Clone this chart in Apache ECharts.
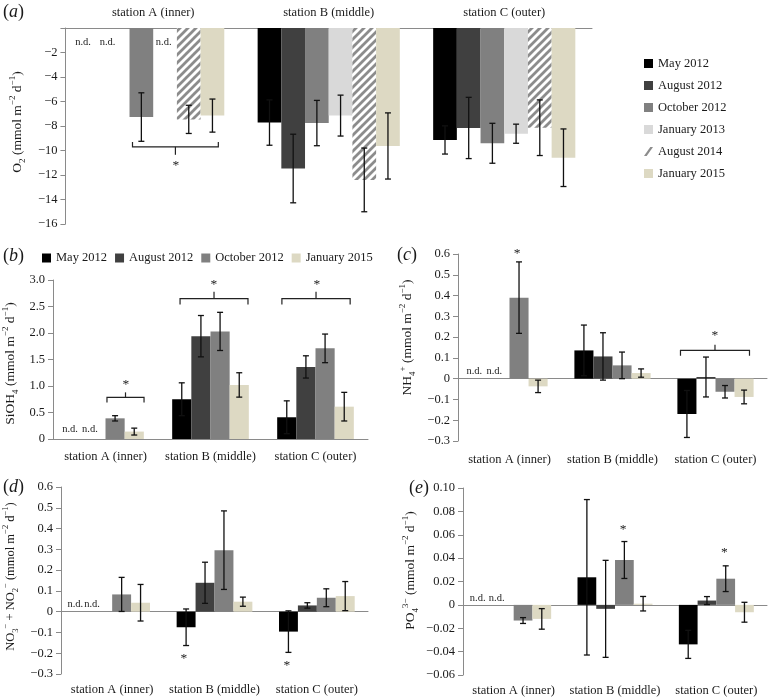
<!DOCTYPE html>
<html>
<head>
<meta charset="utf-8">
<script src="https://cdn.jsdelivr.net/npm/echarts@6/dist/echarts.min.js"></script>
<style>html,body{margin:0;padding:0;background:#fff}#c{width:768px;height:698px}</style>
</head>
<body>
<div id="c"></div>
<script>
// ---------- DATA ----------
const stations = ['station A (inner)', 'station B (middle)', 'station C (outer)'];
const seasonsO2 = ['May 2012', 'August 2012', 'October 2012', 'January 2013', 'August 2014', 'January 2015'];
const seasonsNut = ['May 2012', 'August 2012', 'October 2012', 'January 2015'];

// (a) O2 flux (mmol m-2 d-1), null = n.d.
const o2May = [null, -7.72, -9.14];
const o2MayErr = [null, 1.85, 1.15];
const o2Aug12 = [null, -11.47, -8.16];
const o2Aug12Err = [null, 2.8, 2.5];
const o2Oct12 = [-7.27, -7.76, -9.41];
const o2Oct12Err = [1.98, 1.85, 1.63];
const o2Jan13 = [null, -7.15, -8.63];
const o2Jan13Err = [null, 1.67, 0.78];
const o2Aug14 = [-7.46, -12.4, -8.14];
const o2Aug14Err = [1.15, 2.6, 2.27];
const o2Jan15 = [-7.15, -9.63, -10.59];
const o2Jan15Err = [1.35, 2.7, 2.35];

// (b) SiOH4
const siMay = [null, 0.75, 0.41];
const siMayErr = [null, 0.31, 0.31];
const siAug12 = [null, 1.94, 1.36];
const siAug12Err = [null, 0.39, 0.21];
const siOct12 = [0.39, 2.03, 1.71];
const siOct12Err = [0.05, 0.36, 0.27];
const siJan15 = [0.14, 1.02, 0.61];
const siJan15Err = [0.065, 0.23, 0.27];

// (c) NH4+
const nhMay = [null, 0.136, -0.17];
const nhMayErr = [null, 0.122, 0.113];
const nhAug12 = [null, 0.107, 0.008];
const nhAug12Err = [null, 0.114, 0.096];
const nhOct12 = [0.39, 0.064, -0.063];
const nhOct12Err = [0.172, 0.064, 0.03];
const nhJan15 = [-0.037, 0.027, -0.088];
const nhJan15Err = [0.03, 0.02, 0.033];

// (d) NO3- + NO2-
const noMay = [null, -0.075, -0.096];
const noMayErr = [null, 0.088, 0.1];
const noAug12 = [null, 0.139, 0.030];
const noAug12Err = [null, 0.099, 0.013];
const noOct12 = [0.083, 0.296, 0.067];
const noOct12Err = [0.082, 0.189, 0.043];
const noJan15 = [0.043, 0.048, 0.075];
const noJan15Err = [0.088, 0.022, 0.07];

// (e) PO4 3-
const poMay = [null, 0.0236, -0.0338];
const poMayErr = [null, 0.0665, 0.012];
const poAug12 = [null, -0.0034, 0.0037];
const poAug12Err = [null, 0.0415, 0.0034];
const poOct12 = [-0.0134, 0.0384, 0.0224];
const poOct12Err = [0.0025, 0.0158, 0.011];
const poJan15 = [-0.012, 0.001, -0.0063];
const poJan15Err = [0.0088, 0.0062, 0.0085];

// axis ranges [min, max, interval]
const o2Range = [-16, 0, 2];
const siRange = [0, 3, 0.5];
const nhRange = [-0.3, 0.6, 0.1];
const noRange = [-0.3, 0.6, 0.1];
const poRange = [-0.06, 0.10, 0.02];

// annotations (category units from category centre, value units)
const annA = {nd: [[-0.40, -1.14], [-0.26, -1.14], [0.06, -1.14]],
  brackets: [{x0: -0.118, x1: 0.371, y: -9.7, yEnd: -9.3, yMid: -10.35}],
  stars: [[0.129, -11.0]]};
const annB = {nd: [[-0.338, 0.19], [-0.148, 0.19]],
  brackets: [{x0: 0.014, x1: 0.367, y: 0.785, yEnd: 0.69, yMid: 0.88},
             {x0: 0.71, x1: 1.357, y: 2.65, yEnd: 2.54, yMid: 2.78},
             {x0: 1.68, x1: 2.33, y: 2.65, yEnd: 2.54, yMid: 2.78}],
  stars: [[0.195, 1.09], [1.033, 2.97], [2.014, 2.97]]};
const annC = {nd: [[-0.342, 0.035], [-0.148, 0.035]],
  brackets: [{x0: 1.66, x1: 2.33, y: 0.136, yEnd: 0.11, yMid: 0.163}],
  stars: [[0.074, 0.617], [1.995, 0.223]]};
const annD = {nd: [[-0.36, 0.037], [-0.197, 0.037]], brackets: [],
  stars: [[0.70, -0.213], [1.707, -0.245]]};
const annE = {nd: [[-0.355, 0.0054], [-0.167, 0.0054]], brackets: [],
  stars: [[1.08, 0.0672], [2.08, 0.0472]]};

// ---------- STYLE ----------
const FONT = 'Liberation Serif';
const TXT = '#1a1a1a';
const AX = '#8a8a8a';
const colMay = '#000000', colAug12 = '#404040', colOct12 = '#808080', colJan13 = '#d9d9d9', colJan15 = '#ddd9c3';

const hatch = document.createElement('canvas');
hatch.width = 8; hatch.height = 8;
(function () {
  const g = hatch.getContext('2d');
  g.fillStyle = '#ffffff'; g.fillRect(0, 0, 8, 8);
  g.strokeStyle = '#8c8c8c'; g.lineWidth = 2.8;
  g.beginPath();
  g.moveTo(-2, 10); g.lineTo(10, -2);
  g.moveTo(-6, 6); g.lineTo(6, -6);
  g.moveTo(2, 14); g.lineTo(14, 2);
  g.stroke();
})();
const colAug14 = {image: hatch, repeat: 'repeat'};

const grids = [
  {left: 57, top: 28, width: 535, height: 196},
  {left: 53, top: 280, width: 315, height: 159},
  {left: 458, top: 254, width: 309, height: 187},
  {left: 59, top: 487, width: 309, height: 187},
  {left: 463, top: 488, width: 304, height: 187}
];

function richName(fs) {
  const s = Math.round(fs * 0.67 * 2) / 2;
  return {
    sub: {fontFamily: FONT, fontSize: s, lineHeight: 10, verticalAlign: 'bottom', color: TXT},
    sup: {fontFamily: FONT, fontSize: s, lineHeight: 10, verticalAlign: 'top', color: TXT}
  };
}

function fmtDec(d) {
  return function (v) {
    if (Math.abs(v) < 1e-9) return '0';
    return (v < 0 ? '\u2212' : '') + Math.abs(v).toFixed(d);
  };
}

function yAxisCfg(gi, range, fmt, name, nameGap, pad, fs) {
  return {
    type: 'value', gridIndex: gi, min: range[0], max: range[1], interval: range[2],
    splitLine: {show: false},
    axisLine: {show: true, onZero: false, lineStyle: {color: AX, width: 1}},
    axisTick: {show: true, length: 5, lineStyle: {color: AX}},
    axisLabel: {formatter: fmt, color: TXT, fontFamily: FONT, fontSize: 12.5, margin: 8},
    name: name, nameLocation: 'middle', nameGap: nameGap, nameRotate: 90,
    nameTextStyle: {fontFamily: FONT, fontSize: fs, color: TXT, lineHeight: 19, padding: pad, rich: richName(fs)}
  };
}

const catLabel = {color: TXT, fontFamily: FONT, fontSize: 12.5, interval: 0};
const xAxes = [
  // a
  {type: 'category', gridIndex: 0, data: stations, position: 'top',
   axisLine: {onZero: false, lineStyle: {color: AX}}, axisTick: {inside: true, length: 5, lineStyle: {color: AX}},
   axisLabel: Object.assign({margin: 9}, catLabel)},
  // b
  {type: 'category', gridIndex: 1, data: stations, position: 'bottom',
   axisLine: {onZero: false, lineStyle: {color: AX}}, axisTick: {length: 5, lineStyle: {color: AX}},
   axisLabel: Object.assign({margin: 11}, catLabel)}
];
[2, 3, 4].forEach(function (gi, k) {
  xAxes.push({type: 'category', gridIndex: gi, data: stations,
    axisLine: {onZero: true, lineStyle: {color: AX}}, axisTick: {length: 5, lineStyle: {color: AX}},
    axisLabel: {show: false}});
  xAxes.push({type: 'category', gridIndex: gi, data: stations, position: 'bottom',
    axisLine: {show: false, onZero: false}, axisTick: {show: false},
    axisLabel: Object.assign({margin: k === 0 ? 12 : 9}, catLabel)});
});

const yAxes = [
  yAxisCfg(0, o2Range, function (v) { return v === 0 ? '' : (v < 0 ? '\u2212' : '') + Math.abs(v); },
    'O{sub|2} (mmol m{sup|\u22122} d{sup|\u22121})', 36, [0, 0, 0, 8], 13.5),
  yAxisCfg(1, siRange, function (v) { return v === 0 ? '0' : v.toFixed(1); },
    'SiOH{sub|4} (mmol m{sup|\u22122} d{sup|\u22121})', 33, [0, 8, 0, 0], 13.5),
  yAxisCfg(2, nhRange, fmtDec(1),
    'NH{sub|4}{sup|+} (mmol m{sup|\u22122} d{sup|\u22121})', 41, [0, 0, 0, 20], 13.5),
  yAxisCfg(3, noRange, fmtDec(1),
    'NO{sub|3}{sup|\u2212} + NO{sub|2}{sup|\u2212} (mmol m{sup|\u22122} d{sup|\u22121})', 41, [0, 0, 0, 8], 12.5),
  yAxisCfg(4, poRange, fmtDec(2),
    'PO{sub|4}{sup|3\u2212} (mmol m{sup|\u22122} d{sup|\u22121})', 43, [0, 0, 0, 22], 13.5)
];

const series = [];

function errRender(idx, n, gap) {
  return function (params, api) {
    const cat = api.value(0), lo = api.value(1), hi = api.value(2);
    const p1 = api.coord([cat, lo]), p2 = api.coord([cat, hi]);
    const cw = api.size([1, 0])[0];
    const gw = cw * (1 - gap), bw = gw / n;
    const x = p1[0] - gw / 2 + bw * (idx + 0.5);
    const cap = 3;
    const st = {stroke: '#111', lineWidth: 1.3};
    return {type: 'group', children: [
      {type: 'line', shape: {x1: x, y1: p1[1], x2: x, y2: p2[1]}, style: st},
      {type: 'line', shape: {x1: x - cap, y1: p1[1], x2: x + cap, y2: p1[1]}, style: st},
      {type: 'line', shape: {x1: x - cap, y1: p2[1], x2: x + cap, y2: p2[1]}, style: st}
    ]};
  };
}

function addPanel(xi, yi, names, colors, vals, errs, gap) {
  const n = names.length;
  names.forEach(function (nm, i) {
    series.push({type: 'bar', name: nm, xAxisIndex: xi, yAxisIndex: yi,
      data: vals[i].map(function (v) { return v === null ? '-' : v; }),
      itemStyle: {color: colors[i]}, barGap: 0, barCategoryGap: (gap * 100) + '%',
      emphasis: {disabled: true}, silent: true, animation: false});
  });
  names.forEach(function (nm, i) {
    const d = [];
    vals[i].forEach(function (v, c) {
      if (v !== null) d.push([c, v - errs[i][c], v + errs[i][c]]);
    });
    series.push({type: 'custom', xAxisIndex: xi, yAxisIndex: yi, data: d,
      encode: {x: 0, y: [1, 2]}, renderItem: errRender(i, n, gap), z: 5, silent: true, animation: false});
  });
}

function addAnno(xi, yi, ann) {
  const items = [];
  ann.nd.forEach(function (p) { items.push({k: 'nd', x: p[0], y: p[1]}); });
  ann.stars.forEach(function (p) { items.push({k: 'star', x: p[0], y: p[1]}); });
  ann.brackets.forEach(function (b) { items.push({k: 'br', b: b}); });
  series.push({type: 'custom', xAxisIndex: xi, yAxisIndex: yi, z: 6, silent: true, animation: false,
    data: items.map(function () { return [0, 0]; }), encode: {x: 0, y: 1},
    renderItem: function (params, api) {
      const it = items[params.dataIndex];
      const cw = api.size([1, 0])[0];
      const x0 = api.coord([0, 0])[0];
      if (it.k === 'nd' || it.k === 'star') {
        const y = api.coord([0, it.y])[1];
        return {type: 'text', x: x0 + it.x * cw, y: it.k === 'star' ? y + 3 : y,
          style: {text: it.k === 'nd' ? 'n.d.' : '*', fontFamily: FONT, fontSize: it.k === 'nd' ? 10.5 : 13.5,
            fill: TXT, align: 'center', verticalAlign: 'middle'}};
      }
      const b = it.b;
      const xa = x0 + b.x0 * cw, xb = x0 + b.x1 * cw, xm = (xa + xb) / 2;
      const yh = api.coord([0, b.y])[1], ye = api.coord([0, b.yEnd])[1], ym = api.coord([0, b.yMid])[1];
      const st = {stroke: '#222', lineWidth: 1.2, fill: null};
      return {type: 'group', children: [
        {type: 'polyline', shape: {points: [[xa, ye], [xa, yh], [xb, yh], [xb, ye]]}, style: st},
        {type: 'line', shape: {x1: xm, y1: yh, x2: xm, y2: ym}, style: st}
      ]};
    }});
}

addPanel(0, 0, seasonsO2, [colMay, colAug12, colOct12, colJan13, colAug14, colJan15],
  [o2May, o2Aug12, o2Oct12, o2Jan13, o2Aug14, o2Jan15],
  [o2MayErr, o2Aug12Err, o2Oct12Err, o2Jan13Err, o2Aug14Err, o2Jan15Err], 0.19);
const nutCols = [colMay, colAug12, colOct12, colJan15];
addPanel(1, 1, seasonsNut, nutCols, [siMay, siAug12, siOct12, siJan15],
  [siMayErr, siAug12Err, siOct12Err, siJan15Err], 0.27);
addPanel(2, 2, seasonsNut, nutCols, [nhMay, nhAug12, nhOct12, nhJan15],
  [nhMayErr, nhAug12Err, nhOct12Err, nhJan15Err], 0.26);
addPanel(4, 3, seasonsNut, nutCols, [noMay, noAug12, noOct12, noJan15],
  [noMayErr, noAug12Err, noOct12Err, noJan15Err], 0.26);
addPanel(6, 4, seasonsNut, nutCols, [poMay, poAug12, poOct12, poJan15],
  [poMayErr, poAug12Err, poOct12Err, poJan15Err], 0.26);
addAnno(0, 0, annA);
addAnno(1, 1, annB);
addAnno(2, 2, annC);
addAnno(4, 3, annD);
addAnno(6, 4, annE);

function panelLetter(letter, left, top) {
  return {type: 'text', left: left, top: top, silent: true,
    style: {text: '({i|' + letter + '})', fontFamily: FONT, fontSize: 18, fill: TXT,
      rich: {i: {fontFamily: FONT, fontSize: 18, fontStyle: 'italic', fill: TXT}}}};
}

const legendText = {fontFamily: FONT, fontSize: 12.5, color: TXT};
const option = {
  backgroundColor: '#ffffff',
  animation: false,
  grid: grids,
  xAxis: xAxes,
  yAxis: yAxes,
  legend: [
    {orient: 'vertical', left: 644, top: 57, padding: 0, itemWidth: 9, itemHeight: 9, itemGap: 9,
     textStyle: legendText, selectedMode: false,
     data: seasonsO2.map(function (nm) {
       if (nm === 'August 2014') return {name: nm, icon: 'path://M0,10 L7,0 L10,0 L3,10 Z', itemStyle: {color: '#8c8c8c'}};
       return {name: nm, icon: 'rect'};
     })},
    {orient: 'horizontal', left: 42, top: 251.5, padding: 0, itemWidth: 9, itemHeight: 9, itemGap: 8,
     textStyle: legendText, selectedMode: false,
     data: seasonsNut.map(function (nm) { return {name: nm, icon: 'rect'}; })}
  ],
  graphic: [
    panelLetter('a', 3, 3),
    panelLetter('b', 3, 247),
    panelLetter('c', 397, 246),
    panelLetter('d', 3, 478),
    panelLetter('e', 409, 479)
  ],
  series: series
};

const chart = echarts.init(document.getElementById('c'), null, {renderer: 'canvas'});
chart.setOption(option);
</script>
</body>
</html>
